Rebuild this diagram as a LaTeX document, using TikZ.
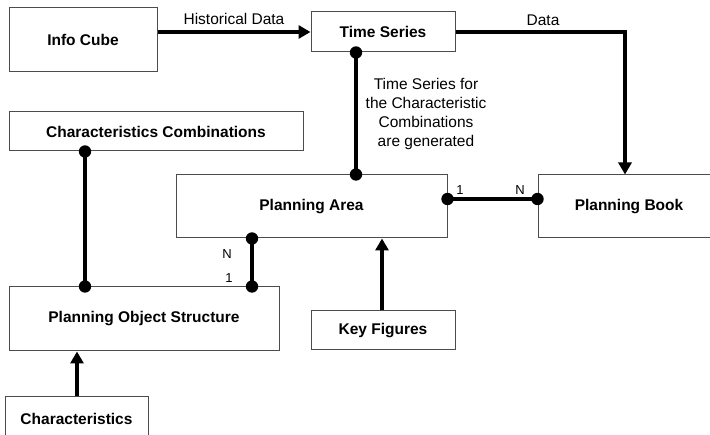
\documentclass[tikz,border=0pt]{standalone}
\usepackage{fontspec}
\setmainfont{Liberation Sans}
\usetikzlibrary{arrows.meta}
\tikzset{
  box/.style={draw=black!70, line width=1pt, rectangle, inner sep=0pt, fill=white,
    font=\fontsize{15.5}{19}\selectfont\bfseries},
  conn/.style={line width=3.6pt},
  arr/.style={conn, -{Triangle[length=12pt,width=13pt]}},
  lbl/.style={font=\fontsize{15.5}{19.3}\selectfont, inner sep=0pt},
  small/.style={font=\fontsize{13}{15}\selectfont, inner sep=0pt},
}
\newcommand{\jdot}[1]{\fill (#1) circle (6.2);}
\begin{document}
\begin{tikzpicture}[x=1pt,y=-1pt]
\useasboundingbox (0,0) rectangle (710,435);
\clip (0,0) rectangle (710,435);
% boxes
\node[box, minimum width=148, minimum height=64] (ic) at (83,40) {Info Cube};
\node[box, minimum width=144, minimum height=40] (ts) at (383,32) {Time Series};
\node[box, minimum width=294, minimum height=39] (cc) at (156,131.5) {Characteristics Combinations};
\node[box, minimum width=271, minimum height=63] (pa) at (311.5,206.5) {Planning Area};
\node[box, minimum width=182, minimum height=63] (pb) at (629,206.5) {Planning Book};
\node[box, minimum width=270, minimum height=64] (pos) at (144,319) {Planning Object Structure};
\node[box, minimum width=144, minimum height=39] (kf) at (383,330.5) {Key Figures};
\node[box, minimum width=143, minimum height=44] (ch) at (76.5,419) {Characteristics};
% helper coordinates
\coordinate (xts) at (356,0);
\coordinate (xcc) at (85,0);
\coordinate (xpa) at (252,0);
\coordinate (xkf) at (382,0);
\coordinate (xch) at (77,0);
\coordinate (xpb) at (625,0);
\coordinate (ypb) at (0,199);
\coordinate (c1) at (ts.east -| xpb);
% connectors
\draw[arr] (ic.east |- ts.west) -- node[lbl, above=6pt] {Historical Data} (ts.west);
\draw[arr] (ts.east) -- (c1) -- (pb.north -| xpb);
\node[lbl] (datalbl) at (543,20) {Data};
\draw[conn] (ts.south -| xts) -- (pa.north -| xts);
\jdot{ts.south -| xts}\jdot{pa.north -| xts}
\node[lbl, align=center] (note) at (426,114) {Time Series for\\the Characteristic\\Combinations\\are generated};
\draw[conn] (cc.south -| xcc) -- (pos.north -| xcc);
\jdot{cc.south -| xcc}\jdot{pos.north -| xcc}
\draw[conn] (pa.south -| xpa) -- (pos.north -| xpa);
\jdot{pa.south -| xpa}\jdot{pos.north -| xpa}
\node[small] (n1) at (227,254) {N};
\node[small] (o1) at (229,278) {1};
\draw[conn] (pa.east |- ypb) -- (pb.west |- ypb);
\jdot{pa.east |- ypb}\jdot{pb.west |- ypb}
\node[small] (o2) at (460,190) {1};
\node[small] (n2) at (520,190) {N};
\draw[arr] (kf.north -| xkf) -- (pa.south -| xkf);
\draw[arr] (ch.north -| xch) -- (pos.south -| xch);
\end{tikzpicture}
\end{document}
